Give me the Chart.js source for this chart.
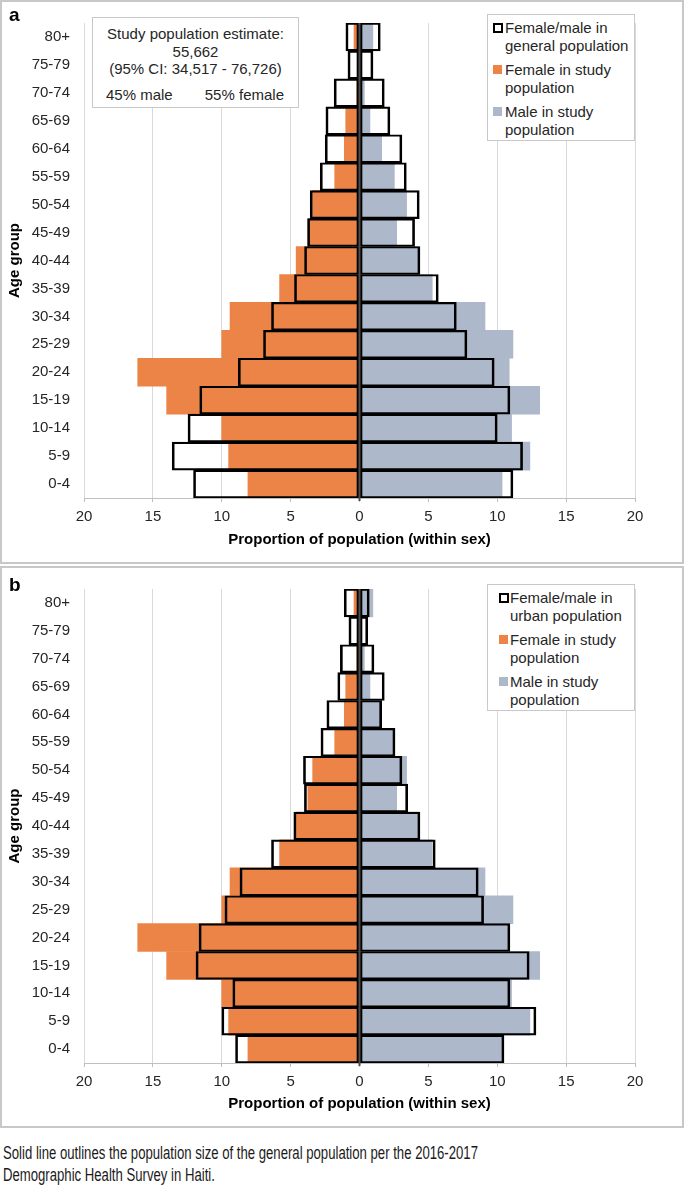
<!DOCTYPE html>
<html>
<head>
<meta charset="utf-8">
<script src="https://cdn.jsdelivr.net/npm/chart.js@4.4.1/dist/chart.umd.min.js"></script>
<style>
  body { margin: 0; background: #fff; font-family: "Liberation Sans", Arial, sans-serif; color: #262626; }
  .panel { position: absolute; left: 0; width: 684px; }
  .panel canvas { position: absolute; left: 0; top: 0; }
  .frame { position: absolute; left: 0; top: 0; right: 0; bottom: 0; border: 2px solid #c8c8c8; box-sizing: border-box; pointer-events: none; }
  .tag { position: absolute; left: 9px; font-weight: bold; font-size: 19px; color: #000; line-height: 20px; }
  .legend { position: absolute; left: 487px; width: 148px; border: 1px solid #c9c9c9; background: #fff; box-sizing: border-box; font-size: 15px; line-height: 17.5px; padding: 4px 0 0 0; }
  .legend .item { position: relative; margin-bottom: 7px; }
  .legend .mark { position: absolute; top: 4px; box-sizing: border-box; }
  .note { position: absolute; left: 92px; top: 17px; width: 207px; height: 91px; border: 1px solid #c9c9c9; box-sizing: border-box; background: #fff; font-size: 15px; line-height: 17.5px; text-align: center; }
  .caption { position: absolute; left: 3px; top: 1142px; font-size: 17.5px; line-height: 22px; color: #1a1a1a; }
  .caption span { display: inline-block; white-space: nowrap; transform-origin: 0 50%; }
</style>
</head>
<body>

<div class="panel" id="panelA" style="top:0; height:564px;">
  <canvas id="chartA" width="684" height="564"></canvas>
  <div class="note">
    <div style="margin-top:7px">Study population estimate:</div>
    <div>55,662</div>
    <div>(95% CI: 34,517 - 76,726)</div>
    <div style="position:absolute; left:13px; top:68px;">45% male</div>
    <div style="position:absolute; right:14px; top:68px;">55% female</div>
  </div>
  <div class="legend" id="legendA" style="top:14px; height:127px;"></div>
  <div class="tag" style="top:5px;">a</div>
  <div class="frame"></div>
</div>

<div class="panel" id="panelB" style="top:566px; height:562px;">
  <canvas id="chartB" width="684" height="562"></canvas>
  <div class="legend" id="legendB" style="top:18px; height:127px;"></div>
  <div class="tag" style="top:9px;">b</div>
  <div class="frame"></div>
</div>

<div class="caption" id="caption">
  <span>Solid line outlines the population size of the general population per the 2016-2017</span><br>
  <span>Demographic Health Survey in Haiti.</span>
</div>

<script>
// ── Datos (porcentaje dentro de cada sexo) ──
const ageGroups = ['0-4', '5-9', '10-14', '15-19', '20-24', '25-29', '30-34', '35-39', '40-44',
                   '45-49', '50-54', '55-59', '60-64', '65-69', '70-74', '75-79', '80+'];

// población del estudio (igual en a y b)
const femaleStudy = [8.1, 9.5, 10.0, 14.0, 16.1, 10.0, 9.4, 5.8, 4.6, 3.75, 3.4, 1.8, 1.1, 1.0, 0.2, 0.05, 0.4];
const maleStudy   = [10.35, 12.37, 11.04, 13.08, 10.87, 11.14, 9.11, 5.28, 4.3, 2.7, 3.42, 2.53, 1.61, 0.76, 0.35, 0.1, 0.97];

// población general (panel a)
const femaleGeneral = [12.05, 13.6, 12.45, 11.6, 8.8, 6.97, 6.39, 4.72, 3.99, 3.77, 3.58, 2.85, 2.49, 2.44, 1.84, 0.84, 0.99];
const maleGeneral   = [11.14, 11.84, 10.0, 10.92, 9.78, 7.8, 7.03, 5.72, 4.39, 4.0, 4.34, 3.4, 3.08, 2.21, 1.8, 0.98, 1.51];

// población urbana (panel b)
const femaleUrban = [9.0, 10.0, 9.2, 11.87, 11.65, 9.77, 8.68, 6.39, 4.77, 4.0, 4.07, 2.8, 2.37, 1.58, 1.39, 0.77, 1.11];
const maleUrban   = [10.49, 12.81, 10.92, 12.32, 10.92, 9.01, 8.62, 5.5, 4.39, 3.5, 3.08, 2.58, 1.61, 1.8, 1.05, 0.6, 0.71];

const xTicks = [-20, -15, -10, -5, 0, 5, 10, 15, 20];

const ORANGE = '#EC8447';
const BLUEGRAY = '#ADB9CA';
const FONT = "'Liberation Sans', Arial, sans-serif";
const neg = arr => arr.map(v => -v);

// línea central en x = 0
const zeroLine = {
    id: 'zeroLine',
    afterDatasetsDraw(chart) {
        const { ctx, chartArea: { top, bottom } } = chart;
        const x = chart.scales.x.getPixelForValue(0);
        ctx.save();
        ctx.strokeStyle = '#4d4d4d';
        ctx.lineWidth = 2;
        ctx.beginPath();
        ctx.moveTo(x, top);
        ctx.lineTo(x, bottom + 3);
        ctx.stroke();
        ctx.restore();
    }
};

function buildLegend(chart, el) {
    chart.data.datasets.forEach(function (ds) {
        if (ds.legendHidden) return;
        const item = document.createElement('div');
        item.className = 'item';
        const mark = document.createElement('span');
        mark.className = 'mark';
        if (ds.backgroundColor === 'rgba(0,0,0,0)') {
            mark.style.cssText = 'width:10px;height:10px;border:2px solid #000;background:#fff;';
        } else {
            mark.style.cssText = 'width:9px;height:9px;background:' + ds.backgroundColor + ';';
        }
        item.appendChild(mark);
        const txt = document.createElement('div');
        txt.innerHTML = ds.label.replace('\n', '<br>');
        item.appendChild(txt);
        el.appendChild(item);
    });
}

function makePyramid(canvasId, legendId, femaleRef, maleRef, refLabel, opts) {
    const outline = {
        backgroundColor: 'rgba(0,0,0,0)',
        borderColor: '#000',
        borderWidth: { top: 1.5, bottom: 1.5, left: 2, right: 2 },
        borderSkipped: false,
        grouped: false,
        barPercentage: 1,
        categoryPercentage: 1
    };
    const filled = {
        borderWidth: 0,
        grouped: false,
        barPercentage: 1,
        categoryPercentage: 1
    };

    const chart = new Chart(document.getElementById(canvasId), {
        type: 'bar',
        data: {
            labels: ageGroups,
            datasets: [
                Object.assign({ label: refLabel, data: neg(femaleRef) }, outline),
                Object.assign({ label: refLabel, data: maleRef, legendHidden: true }, outline),
                Object.assign({ label: 'Female in study\npopulation', data: neg(femaleStudy), backgroundColor: ORANGE }, filled),
                Object.assign({ label: 'Male in study\npopulation', data: maleStudy, backgroundColor: BLUEGRAY }, filled)
            ]
        },
        options: {
            indexAxis: 'y',
            responsive: false,
            animation: false,
            layout: { padding: { left: 0, right: 49, top: opts.top, bottom: 0 } },
            plugins: {
                legend: { display: false },
                tooltip: { enabled: false }
            },
            scales: {
                x: {
                    min: -20,
                    max: 20,
                    afterBuildTicks: s => { s.ticks = xTicks.map(v => ({ value: v })); },
                    afterFit: s => { s.height = opts.xHeight; },
                    ticks: {
                        callback: v => Math.abs(v),
                        color: '#262626',
                        font: { family: FONT, size: 15 },
                        padding: 6
                    },
                    grid: { color: '#d9d9d9', tickLength: 4, tickColor: '#bfbfbf' },
                    border: { color: '#bfbfbf' },
                    title: {
                        display: true,
                        text: 'Proportion of population (within sex)',
                        color: '#000',
                        font: { family: FONT, size: 15, weight: 'bold' },
                        padding: { top: 0, bottom: 15 }
                    }
                },
                y: {
                    reverse: true,
                    afterFit: s => { s.width = 84; },
                    grid: { display: false, drawTicks: false },
                    border: { display: false },
                    ticks: {
                        color: '#262626',
                        font: { family: FONT, size: 15 },
                        padding: 14
                    },
                    title: {
                        display: true,
                        text: 'Age group',
                        color: '#000',
                        font: { family: FONT, size: 15, weight: 'bold' },
                        padding: { top: 6, bottom: 0 }
                    }
                }
            }
        },
        plugins: [zeroLine]
    });

    buildLegend(chart, document.getElementById(legendId));
    return chart;
}

makePyramid('chartA', 'legendA', femaleGeneral, maleGeneral, 'Female/male in\ngeneral population', { top: 16, xHeight: 66 });
makePyramid('chartB', 'legendB', femaleUrban, maleUrban, 'Female/male in\nurban population', { top: 17, xHeight: 65 });

// posiciones del marcador/texto en las leyendas
document.querySelectorAll('#legendA .item').forEach(i => { i.style.paddingLeft = '17px'; i.querySelector('.mark').style.left = '5px'; });
document.querySelectorAll('#legendB .item').forEach(i => { i.style.paddingLeft = '22px'; i.querySelector('.mark').style.left = '11px'; });

// pie de figura: tipografía estrecha, se ajusta al ancho del original
const capLines = document.querySelectorAll('#caption span');
const k = 475 / capLines[0].getBoundingClientRect().width;
capLines.forEach(s => { s.style.transform = 'scaleX(' + k + ')'; });
</script>
</body>
</html>
